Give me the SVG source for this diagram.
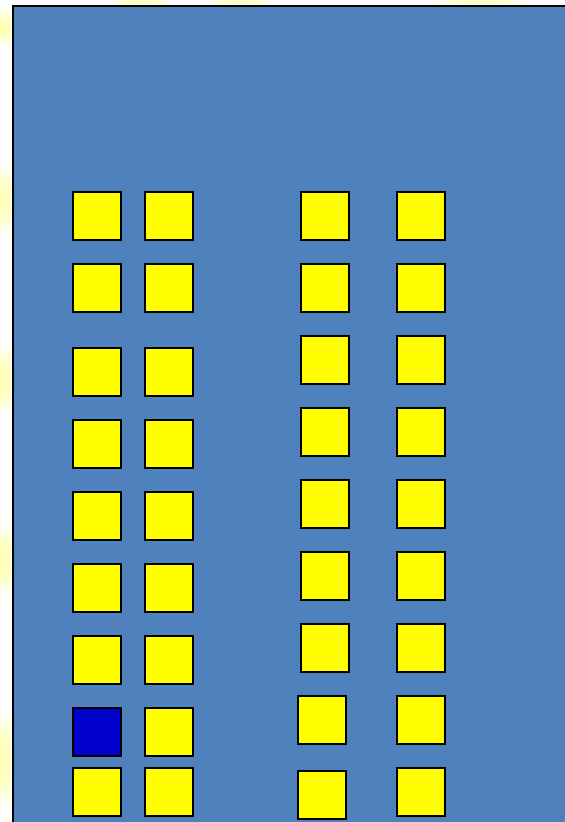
<svg xmlns="http://www.w3.org/2000/svg" width="565" height="822" viewBox="0 0 565 822">
<style>
.n rect{stroke:#000;stroke-width:2}
.y{fill:#FFFF00}
.b{fill:#0000CC}
</style>
<defs>
<filter id="blur" x="-50%" y="-50%" width="200%" height="200%"><feGaussianBlur stdDeviation="6"/></filter>
</defs>
<rect width="565" height="822" fill="#fff"/>
<g filter="url(#blur)" fill="#FFFF80" opacity="0.8">
<ellipse cx="4" cy="28" rx="8" ry="14"/>
<ellipse cx="140" cy="2" rx="25" ry="5"/>
<ellipse cx="240" cy="2" rx="30" ry="4"/>
<ellipse cx="4" cy="200" rx="6" ry="30"/>
<ellipse cx="4" cy="380" rx="6" ry="30"/>
<ellipse cx="4" cy="560" rx="6" ry="30"/>
<ellipse cx="4" cy="760" rx="6" ry="40"/>
<ellipse cx="480" cy="2" rx="40" ry="4"/>
</g>
<rect id="panel" x="13" y="6" width="560" height="830" fill="#4F81BD" stroke="#000" stroke-width="2"/>
<g id="nodes" class="n">
<g id="a1"><rect class="y" x="73" y="192" width="48" height="48"/></g>
<g id="a2"><rect class="y" x="73" y="264" width="48" height="48"/></g>
<g id="a3"><rect class="y" x="73" y="348" width="48" height="48"/></g>
<g id="a4"><rect class="y" x="73" y="420" width="48" height="48"/></g>
<g id="a5"><rect class="y" x="73" y="492" width="48" height="48"/></g>
<g id="a6"><rect class="y" x="73" y="564" width="48" height="48"/></g>
<g id="a7"><rect class="y" x="73" y="636" width="48" height="48"/></g>
<g id="a8"><rect class="b" x="73" y="708" width="48" height="48"/></g>
<g id="a9"><rect class="y" x="73" y="768" width="48" height="48"/></g>
<g id="b1"><rect class="y" x="145" y="192" width="48" height="48"/></g>
<g id="b2"><rect class="y" x="145" y="264" width="48" height="48"/></g>
<g id="b3"><rect class="y" x="145" y="348" width="48" height="48"/></g>
<g id="b4"><rect class="y" x="145" y="420" width="48" height="48"/></g>
<g id="b5"><rect class="y" x="145" y="492" width="48" height="48"/></g>
<g id="b6"><rect class="y" x="145" y="564" width="48" height="48"/></g>
<g id="b7"><rect class="y" x="145" y="636" width="48" height="48"/></g>
<g id="b8"><rect class="y" x="145" y="708" width="48" height="48"/></g>
<g id="b9"><rect class="y" x="145" y="768" width="48" height="48"/></g>
<g id="c1"><rect class="y" x="301" y="192" width="48" height="48"/></g>
<g id="c2"><rect class="y" x="301" y="264" width="48" height="48"/></g>
<g id="c3"><rect class="y" x="301" y="336" width="48" height="48"/></g>
<g id="c4"><rect class="y" x="301" y="408" width="48" height="48"/></g>
<g id="c5"><rect class="y" x="301" y="480" width="48" height="48"/></g>
<g id="c6"><rect class="y" x="301" y="552" width="48" height="48"/></g>
<g id="c7"><rect class="y" x="301" y="624" width="48" height="48"/></g>
<g id="c8"><rect class="y" x="298" y="696" width="48" height="48"/></g>
<g id="c9"><rect class="y" x="298" y="771" width="48" height="48"/></g>
<g id="d1"><rect class="y" x="397" y="192" width="48" height="48"/></g>
<g id="d2"><rect class="y" x="397" y="264" width="48" height="48"/></g>
<g id="d3"><rect class="y" x="397" y="336" width="48" height="48"/></g>
<g id="d4"><rect class="y" x="397" y="408" width="48" height="48"/></g>
<g id="d5"><rect class="y" x="397" y="480" width="48" height="48"/></g>
<g id="d6"><rect class="y" x="397" y="552" width="48" height="48"/></g>
<g id="d7"><rect class="y" x="397" y="624" width="48" height="48"/></g>
<g id="d8"><rect class="y" x="397" y="696" width="48" height="48"/></g>
<g id="d9"><rect class="y" x="397" y="768" width="48" height="48"/></g>
</g>
<g id="connectors"/>
</svg>
